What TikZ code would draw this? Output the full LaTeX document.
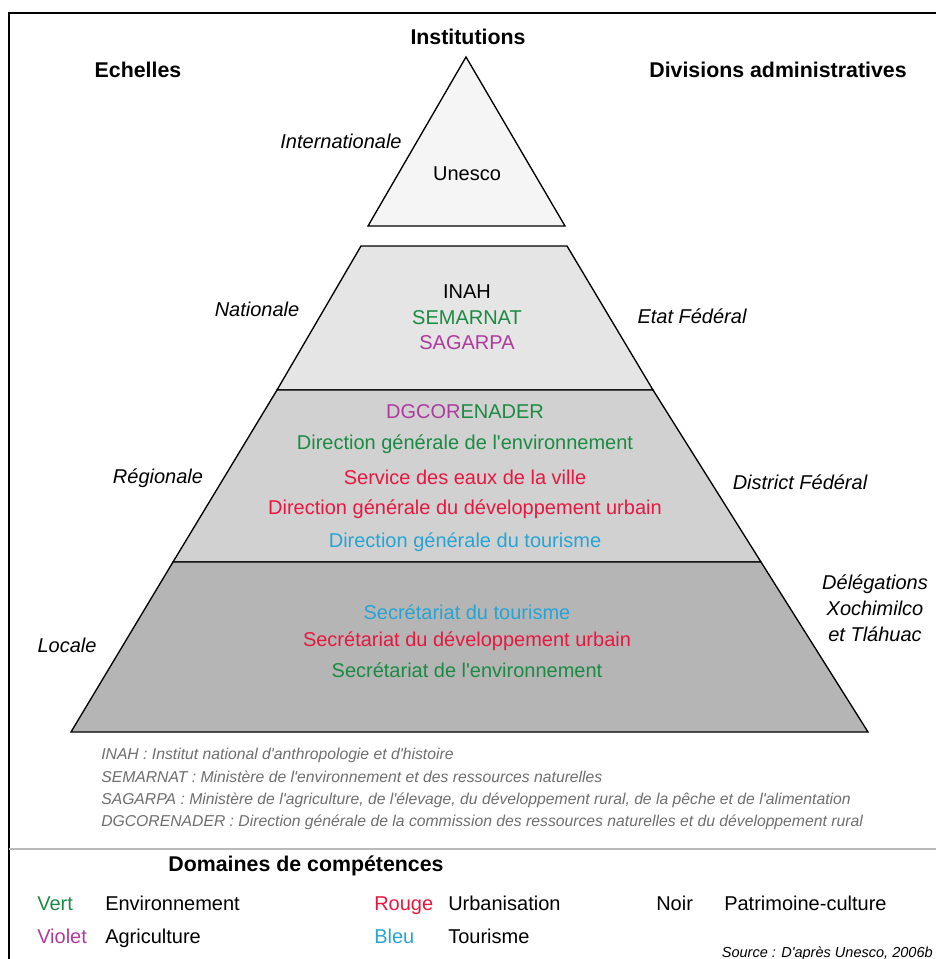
\documentclass[tikz,border=0pt]{standalone}
\usepackage{fontspec}
\setmainfont{Liberation Sans}[Ligatures=TeXOff]
\definecolor{colVert}{HTML}{1B8A43}
\definecolor{colViolet}{HTML}{AE3A9E}
\definecolor{colRouge}{HTML}{E8173F}
\definecolor{colBleu}{HTML}{27A4D2}
\definecolor{noteGris}{HTML}{6E6E6E}
\begin{document}
\begin{tikzpicture}[
    x=0.75pt, y=-0.75pt,
    titre/.style={font=\bfseries\fontsize{16}{19}\selectfont},
    echelle/.style={font=\itshape\fontsize{15}{18}\selectfont},
    inst/.style={font=\fontsize{15}{18}\selectfont},
    note/.style={anchor=west, inner sep=0pt, text=noteGris, font=\itshape\fontsize{11.8}{14}\selectfont},
    legende/.style={anchor=base west, inner sep=0pt, font=\fontsize{15}{18}\selectfont},
    etage/.style={draw=black, line width=1pt, line join=miter},
]
\useasboundingbox (0,0) rectangle (936,959);

% Cadre
\draw[line width=1.5pt] (936,13) -- (9,13) -- (9,959);
\draw[line width=1.5pt, gray!55] (9,849) -- (936,849);

% Titres
\node[titre] (institutions) at (468,37) {Institutions};
\node[titre] (echelles) at (138,70) {Echelles};
\node[titre] (divisions) at (778,70) {Divisions administratives};

% Pyramide
\filldraw[etage, fill=black!4] (466,57) -- (565,226) -- (368,226) -- cycle;
\filldraw[etage, fill=black!10] (361,246) -- (567,246) -- (653,390) -- (277,390) -- cycle;
\filldraw[etage, fill=black!18] (277,390) -- (653,390) -- (761,562) -- (173,562) -- cycle;
\filldraw[etage, fill=black!29] (173,562) -- (761,562) -- (868,732) -- (71,732) -- cycle;

% Internationale
\node[echelle] (internationale) at (341,141) {Internationale};
\node[inst] (unesco) at (467,174) {Unesco};

% Nationale
\node[echelle] (nationale) at (257,309) {Nationale};
\node[inst] (inah) at (467,292) {INAH};
\node[inst, text=colVert] (semarnat) at (467,318) {SEMARNAT};
\node[inst, text=colViolet] (sagarpa) at (467,343) {SAGARPA};
\node[echelle] (etat) at (692,316) {Etat Fédéral};

% Regionale
\node[echelle] (regionale) at (158,478) {Régionale};
\node[inst] (dgcorenader) at (465,412) {\textcolor{colViolet}{DGCOR}\textcolor{colVert}{ENADER}};
\node[inst, text=colVert] (dgenv) at (465,444) {Direction générale de l'environnement};
\node[inst, text=colRouge] (eaux) at (465,477) {Service des eaux de la ville};
\node[inst, text=colRouge] (dgurb) at (465,509) {Direction générale du développement urbain};
\node[inst, text=colBleu] (dgtour) at (465,542) {Direction générale du tourisme};
\node[echelle] (district) at (800,482) {District Fédéral};

% Locale
\node[echelle] (locale) at (67,645) {Locale};
\node[inst, text=colBleu] (sectour) at (467,612) {Secrétariat du tourisme};
\node[inst, text=colRouge] (securb) at (467,641) {Secrétariat du développement urbain};
\node[inst, text=colVert] (secenv) at (467,670) {Secrétariat de l'environnement};
\node[echelle, align=center, font=\itshape\fontsize{15}{19.5}\selectfont] (delegations) at (875,608) {Délégations\\Xochimilco\\et Tláhuac};

% Sigles
\node[note] (n1) at (101,755) {INAH : Institut national d'anthropologie et d'histoire};
\node[note] (n2) at (101,777) {SEMARNAT : Ministère de l'environnement et des ressources naturelles};
\node[note] (n3) at (101,800) {SAGARPA : Ministère de l'agriculture, de l'élevage, du développement rural, de la pêche et de l'alimentation};
\node[note] (n4) at (101,822) {DGCORENADER : Direction générale de la commission des ressources naturelles et du développement rural};

% Legende
\node[titre] (domaines) at (306,866) {Domaines de compétences};
\node[legende, text=colVert] (vert) at (37,910) {Vert};
\node[legende] (environnement) at (105,910) {Environnement};
\node[legende, text=colRouge] (rouge) at (374,910) {Rouge};
\node[legende] (urbanisation) at (448,910) {Urbanisation};
\node[legende] (noir) at (656,910) {Noir};
\node[legende] (patrimoine) at (724,910) {Patrimoine-culture};
\node[legende, text=colViolet] (violet) at (37,943) {Violet};
\node[legende] (agriculture) at (105,943) {Agriculture};
\node[legende, text=colBleu] (bleu) at (374,943) {Bleu};
\node[legende] (tourisme) at (448,943) {Tourisme};
\node[anchor=base east, inner sep=0pt, font=\itshape\fontsize{10.9}{13}\selectfont] (source) at (933,957) {Source : D'après Unesco, 2006b};

\end{tikzpicture}
\end{document}
